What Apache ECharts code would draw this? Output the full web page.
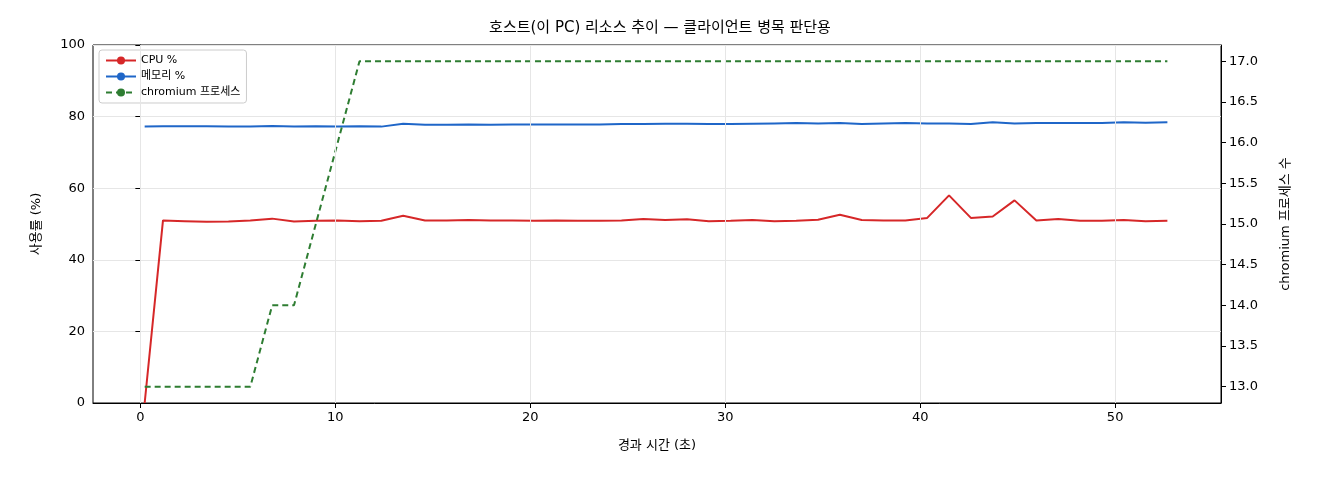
<!DOCTYPE html>
<html><head><meta charset="utf-8">
<script src="https://cdn.jsdelivr.net/npm/echarts@6/dist/echarts.min.js"></script>
<style>html,body{margin:0;padding:0;background:#fff}#c{width:1320px;height:480px}</style>
</head><body><div id="c"></div>
<script>
const times=[0.22,1.16,2.28,3.40,4.52,5.64,6.76,7.88,9.00,10.12,11.24,12.36,13.48,14.60,15.72,16.84,17.96,19.08,20.20,21.32,22.44,23.56,24.68,25.80,26.92,28.04,29.16,30.28,31.40,32.52,33.64,34.76,35.88,37.00,38.12,39.24,40.36,41.48,42.60,43.72,44.84,45.96,47.08,48.20,49.32,50.44,51.56,52.68];
const cpu=[0,51,50.8,50.6,50.7,51,51.5,50.7,50.9,51,50.8,50.9,52.3,51,51,51.1,51,51,50.9,51,50.9,50.9,51,51.4,51.1,51.3,50.8,50.9,51.1,50.8,50.9,51.2,52.6,51.1,51,51,51.7,58,51.7,52.1,56.6,51,51.4,50.9,50.9,51.1,50.8,50.9];
const mem=[77.2,77.3,77.3,77.3,77.2,77.2,77.4,77.2,77.3,77.2,77.3,77.2,78.0,77.7,77.7,77.8,77.7,77.8,77.8,77.8,77.8,77.8,77.9,77.9,78.0,78.0,77.9,77.9,78.0,78.1,78.2,78.1,78.2,77.9,78.1,78.2,78.1,78.1,77.9,78.4,78.1,78.2,78.2,78.2,78.2,78.4,78.3,78.4];
const procs=[13,13,13,13,13,13,14,14,15,16,17,17,17,17,17,17,17,17,17,17,17,17,17,17,17,17,17,17,17,17,17,17,17,17,17,17,17,17,17,17,17,17,17,17,17,17,17,17];
const xTicks=[0,10,20,30,40,50];
const rTicks=[13,13.5,14,14.5,15,15.5,16,16.5,17];
const F='"DejaVu Sans","Noto Sans CJK KR",sans-serif';
const z=(a,b)=>a.map((v,i)=>[v,b[i]]);
const ch=echarts.init(document.getElementById('c'));
ch.setOption({
  animation:false,textStyle:{fontFamily:F},
  title:{text:'호스트(이 PC) 리소스 추이 — 클라이언트 병목 판단용',left:'center',top:16,textStyle:{fontFamily:F,fontSize:15,fontWeight:'normal',color:'#000'}},
  grid:{left:93,right:99,top:45,bottom:77,show:true,borderColor:'#000',borderWidth:1,backgroundColor:'transparent'},
  legend:{orient:'vertical',left:99,top:50,itemWidth:30,itemHeight:10,itemGap:5,padding:[5,6],borderColor:'#ccc',borderWidth:1,borderRadius:3,textStyle:{fontFamily:F,fontSize:11,color:'#000'},
    data:['CPU %','메모리 %','chromium 프로세스']},
  xAxis:{type:'value',min:-2.43,max:55.43,name:'경과 시간 (초)',nameLocation:'middle',nameGap:36,nameTextStyle:{fontSize:13,color:'#000'},
    axisLine:{onZero:false,lineStyle:{color:'#000'}},axisTick:{customValues:xTicks,lineStyle:{color:'#000'}},
    axisLabel:{customValues:xTicks,color:'#000',fontSize:13},splitLine:{show:false}},
  yAxis:[{type:'value',min:0,max:100,interval:20,name:'사용률 (%)',nameLocation:'middle',nameGap:50,nameTextStyle:{fontSize:13,color:'#000'},
    axisLine:{show:true,lineStyle:{color:'#000'}},axisTick:{show:true},axisLabel:{color:'#000',fontSize:13},splitLine:{lineStyle:{color:'#e6e6e6'}}},
    {type:'value',min:12.8,max:17.2,name:'chromium 프로세스 수',nameLocation:'middle',nameGap:58,nameTextStyle:{fontSize:13,color:'#000'},
    axisLine:{show:true,lineStyle:{color:'#000'}},axisTick:{show:true,customValues:rTicks},axisLabel:{customValues:rTicks,color:'#000',fontSize:13,formatter:v=>v.toFixed(1)},splitLine:{show:false}}],
  series:[
    {name:'CPU %',type:'line',symbol:'none',data:z(times,cpu),lineStyle:{color:'#d62728',width:2},itemStyle:{color:'#d62728'},
      markLine:{silent:true,symbol:'none',label:{show:false},lineStyle:{color:'#e6e6e6',type:'solid',width:1},data:xTicks.map(v=>({xAxis:v}))},z:3},
    {name:'메모리 %',type:'line',symbol:'none',data:z(times,mem),lineStyle:{color:'#1f66c8',width:2},itemStyle:{color:'#1f66c8'},z:3},
    {name:'chromium 프로세스',type:'line',symbol:'none',yAxisIndex:1,data:z(times,procs),lineStyle:{color:'#2e7d32',width:2,type:[6,4]},itemStyle:{color:'#2e7d32'},z:3}
  ]
});
</script></body></html>
